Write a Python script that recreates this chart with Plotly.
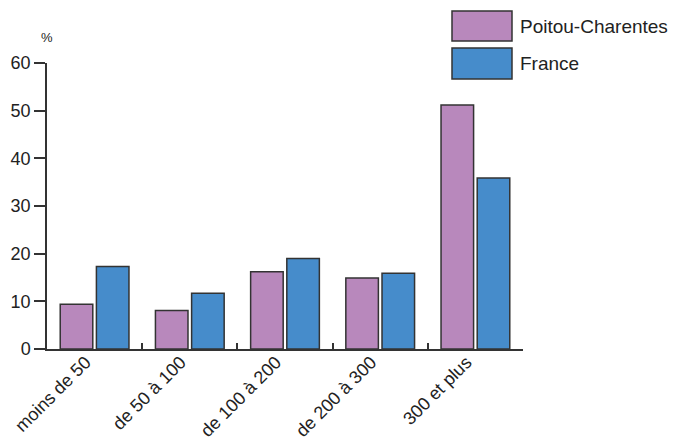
import plotly.graph_objects as go

categories = ["moins de 50", "de 50 à 100", "de 100 à 200", "de 200 à 300", "300 et plus"]
poitou = [9.4, 8.1, 16.2, 14.9, 51.2]
france = [17.3, 11.7, 19.0, 15.9, 35.9]
series_names = ["Poitou-Charentes", "France"]
y_ticks = [0, 10, 20, 30, 40, 50, 60]

c_poitou = "#B888BC"
c_france = "#468CCB"
edge = "#333333"
font = "Liberation Sans"

fig = go.Figure()
fig.add_trace(go.Bar(x=categories, y=poitou, name=series_names[0],
                     marker=dict(color=c_poitou, line=dict(color=edge, width=1.5))))
fig.add_trace(go.Bar(x=categories, y=france, name=series_names[1],
                     marker=dict(color=c_france, line=dict(color=edge, width=1.5))))

fig.update_layout(
    width=671, height=433,
    margin=dict(l=39, r=156, t=55, b=92, autoexpand=False),
    plot_bgcolor="white", paper_bgcolor="white",
    barmode="group", bargap=0.24, bargroupgap=0.1,
    showlegend=False,
    font=dict(family=font, color="#222222"),
)
fig.update_xaxes(
    showgrid=False, showline=True, linecolor=edge, linewidth=1.5,
    tickson="boundaries", ticks="inside", ticklen=6, tickcolor=edge, tickwidth=1.5,
    tickangle=-45, tickfont=dict(size=18, family=font, color="#222222"),
    ticklabelshift=-9, ticklabelstandoff=-6,
    range=[-0.5, 4.5], automargin=False,
)
fig.update_yaxes(
    range=[0, 60], tickvals=y_ticks, showgrid=False, zeroline=False,
    showline=True, linecolor=edge, linewidth=1.5,
    ticks="outside", ticklen=11, tickcolor=edge, tickwidth=1.5,
    tickfont=dict(size=18, family=font, color="#222222"),
    automargin=False,
)

# "%" unit label
fig.add_annotation(x=0, y=1.0, xref="paper", yref="paper", text="%", showarrow=False,
                   xanchor="center", yanchor="bottom", yshift=16,
                   font=dict(size=13, family=font, color="#222222"))

# legend drawn manually (pixel positions relative to the plot area)
leg = [(series_names[0], c_poitou, 11, 41), (series_names[1], c_france, 48, 79)]
for name, col, y0, y1 in leg:
    fig.add_shape(type="rect", xref="paper", yref="paper",
                  x0=(452 - 47) / 476, x1=(512 - 47) / 476,
                  y0=(349 - y1) / 286, y1=(349 - y0) / 286,
                  fillcolor=col, line=dict(color=edge, width=1.5))
    fig.add_annotation(xref="paper", yref="paper", x=(518 - 47) / 476,
                       y=(349 - (y0 + y1) / 2) / 286, text=name, showarrow=False,
                       xanchor="left", yanchor="middle",
                       font=dict(size=19, family=font, color="#222222"))

fig.write_html("out.html")
